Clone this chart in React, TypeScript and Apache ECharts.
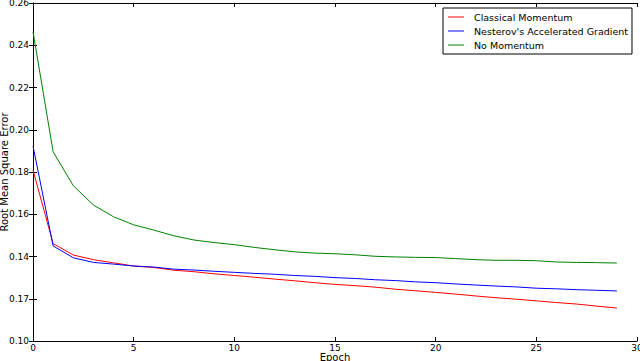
import React, { useEffect, useRef } from "react";
import * as echarts from "echarts";

const epochs = Array.from({ length: 30 }, (_, i) => i);
const classical = [0.1809, 0.1461, 0.1407, 0.1385, 0.137, 0.1355, 0.1348, 0.1335, 0.1328, 0.1318, 0.131, 0.1302, 0.1293, 0.1285, 0.1276, 0.1268, 0.1262, 0.1255, 0.1245, 0.1238, 0.123, 0.1222, 0.1213, 0.1205, 0.1198, 0.119, 0.1182, 0.1175, 0.1165, 0.1156];
const nesterov = [0.1923, 0.145, 0.1394, 0.1372, 0.1364, 0.1355, 0.135, 0.134, 0.1336, 0.133, 0.1325, 0.132, 0.1316, 0.131, 0.1306, 0.13, 0.1296, 0.129, 0.1286, 0.128, 0.1276, 0.127, 0.1265, 0.126, 0.1256, 0.125, 0.1247, 0.1243, 0.124, 0.1237];
const noMomentum = [0.2464, 0.1896, 0.1735, 0.1644, 0.1588, 0.155, 0.1525, 0.1498, 0.1478, 0.1466, 0.1456, 0.1443, 0.1432, 0.1422, 0.1416, 0.1413, 0.1408, 0.1401, 0.1398, 0.1396, 0.1395, 0.139, 0.1385, 0.1382, 0.1382, 0.138, 0.1374, 0.1372, 0.1371, 0.1369];
const seriesNames = ["Classical Momentum", "Nesterov's Accelerated Gradient", "No Momentum"];
const seriesColors = ["#ff0000", "#0000ff", "#008000"];
const yTickValues = [0.1, 0.12, 0.14, 0.16, 0.18, 0.2, 0.22, 0.24, 0.26];
const yTickLabels = ["0.10", "0.17", "0.14", "0.16", "0.18", "0.20", "0.22", "0.24", "0.26"];

const FONT = "DejaVu Sans";

export default function App() {
  const ref = useRef<HTMLDivElement>(null);
  useEffect(() => {
    if (!ref.current) return;
    const chart = echarts.init(ref.current, null, { renderer: "svg" });
    const yLabel = (v: number) => {
      const idx = yTickValues.findIndex((t) => Math.abs(t - v) < 1e-6);
      return idx >= 0 ? yTickLabels[idx] : "";
    };
    const axisLine = { show: true, lineStyle: { color: "#000", width: 1 } };
    const axisTick = { show: true, inside: true, length: 4, lineStyle: { color: "#000" } };
    const datas = [classical, nesterov, noMomentum];
    chart.setOption({
      animation: false,
      backgroundColor: "#fff",
      grid: { left: 33, right: 3, top: 3, bottom: 20, containLabel: false, outerBoundsMode: "none" },
      legend: {
        orient: "vertical",
        left: 443,
        top: 8,
        padding: [4, 4, 4, 5],
        borderColor: "#000",
        borderWidth: 1,
        itemGap: 4,
        itemWidth: 16,
        itemHeight: 10,
        icon: "path://M0,5 L16,5 L16,6 L0,6 Z",
        textStyle: { fontFamily: FONT, fontSize: 9.5, color: "#000", padding: [0, 0, 0, 5] },
        data: seriesNames,
      },
      xAxis: [
        {
          type: "value",
          min: 0,
          max: 30,
          interval: 5,
          name: "Epoch",
          nameLocation: "middle",
          nameGap: 11,
          nameMoveOverlap: false,
          nameTextStyle: { fontFamily: FONT, fontSize: 10, color: "#000", verticalAlign: "top" },
          axisLine,
          axisTick,
          splitLine: { show: false },
          axisLabel: { fontFamily: FONT, fontSize: 9, color: "#000", margin: 2 },
        },
        {
          type: "value",
          position: "top",
          min: 0,
          max: 30,
          interval: 5,
          axisLine,
          axisTick,
          splitLine: { show: false },
          axisLabel: { show: false },
        },
      ],
      yAxis: [
        {
          type: "value",
          min: 0.1,
          max: 0.26,
          interval: 0.02,
          name: "Root Mean Square Error",
          nameLocation: "middle",
          nameGap: 24,
          nameMoveOverlap: false,
          nameTextStyle: { fontFamily: FONT, fontSize: 10, color: "#000" },
          axisLine,
          axisTick,
          splitLine: { show: false },
          axisLabel: { fontFamily: FONT, fontSize: 9, color: "#000", margin: 4, formatter: yLabel },
        },
        {
          type: "value",
          position: "right",
          min: 0.1,
          max: 0.26,
          interval: 0.02,
          axisLine,
          axisTick,
          splitLine: { show: false },
          axisLabel: { show: false },
        },
      ],
      series: seriesNames.map((name, i) => ({
        name,
        type: "line",
        xAxisIndex: 0,
        yAxisIndex: 0,
        showSymbol: false,
        symbol: "none",
        color: seriesColors[i],
        lineStyle: { color: seriesColors[i], width: 1 },
        data: epochs.map((e, j) => [e, datas[i][j]]),
      })),
    });
    return () => chart.dispose();
  }, []);
  return <div ref={ref} style={{ width: 640, height: 361, position: "fixed", left: 0, top: 0 }} />;
}
